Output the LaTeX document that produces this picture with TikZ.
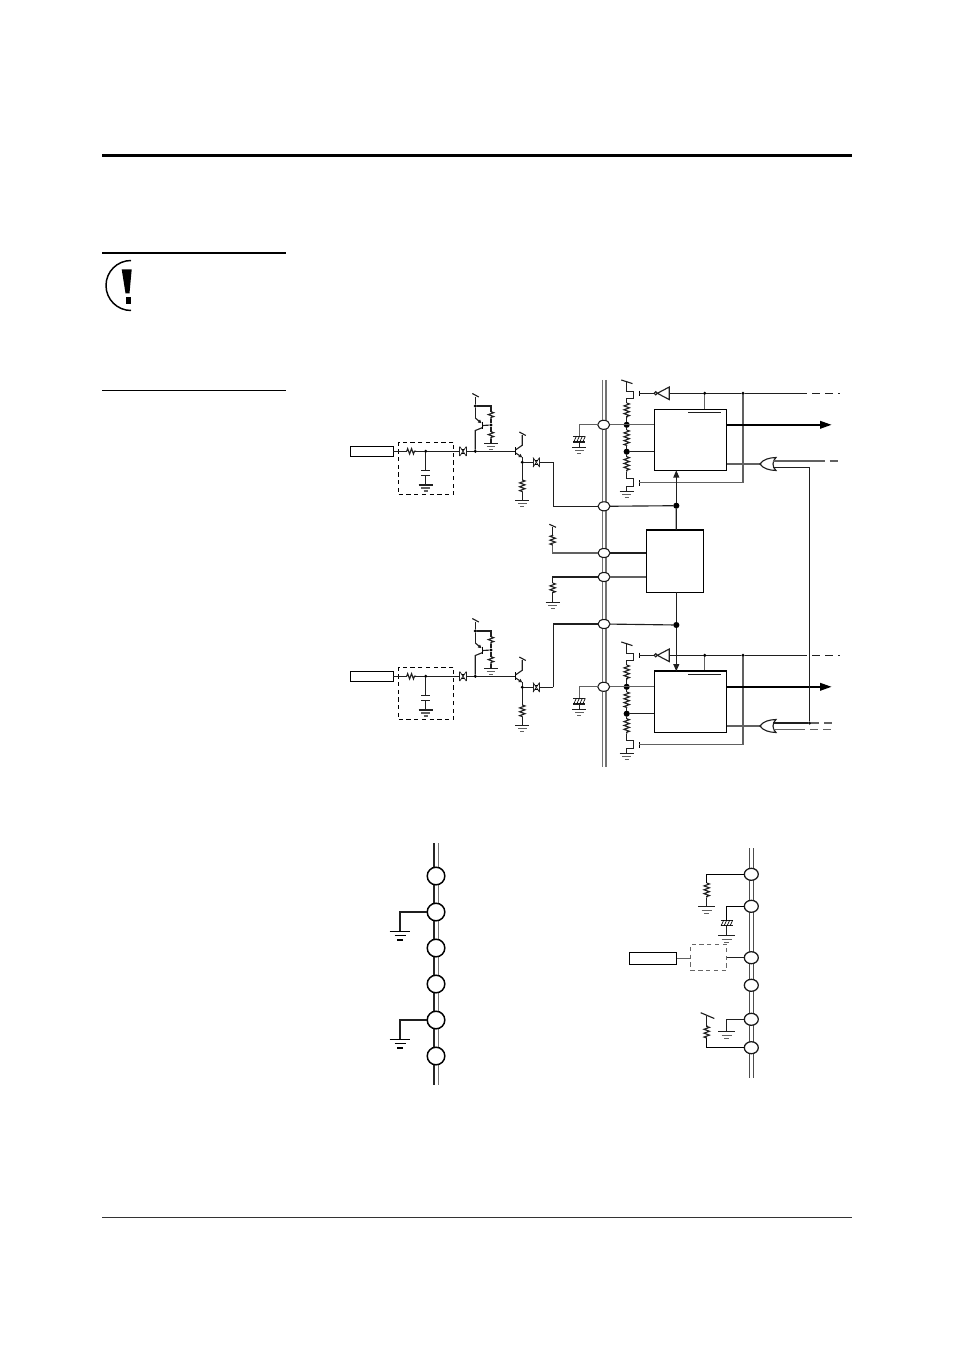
\documentclass[tikz,border=0pt]{standalone}
\usetikzlibrary{arrows.meta,decorations.pathmorphing,shapes.geometric}
\tikzset{
  wire/.style={line width=0.85pt,black!88},
  gwire/.style={line width=0.95pt,black!62},
  res/.style={wire,decorate,decoration={zigzag,amplitude=2pt,segment length=2.9pt}},
  dotn/.style={circle,fill=black,inner sep=0,outer sep=0,minimum size=2.6pt},
  bigdot/.style={circle,fill=black,inner sep=0,outer sep=0,minimum size=4.6pt},
  pad/.style={ellipse,draw=black!90,fill=white,line width=0.8pt,inner sep=0,outer sep=0,minimum width=9pt,minimum height=6.8pt},
  padb/.style={ellipse,draw=black!90,fill=white,line width=0.95pt,inner sep=0,outer sep=0,minimum width=10.5pt,minimum height=9pt},
  padc/.style={circle,draw=black,fill=white,line width=1.1pt,inner sep=0,outer sep=0,minimum size=13.2pt},
  ebox/.style={rectangle,draw=black,fill=none,line width=0.75pt,inner sep=0,outer sep=0},
  ddash/.style={wire,dash pattern=on 6pt off 3.75pt},
  gnd/.pic={\draw[wire] (-7,0)--(7,0); \draw[gwire,line width=0.8pt] (-4.3,3)--(4.3,3); \draw[gwire,line width=0.8pt] (-2,6)--(2,6);},
  gndb/.pic={\draw[line width=1.1pt] (-10.3,0)--(10.3,0); \draw[line width=1pt] (-5.5,4)--(5.5,4); \draw[line width=1pt] (-3,8.3)--(3,8.3);},
  gndm/.pic={\draw[wire] (-8.3,0)--(8.3,0); \draw[gwire,line width=0.8pt] (-5,3.5)--(5,3.5); \draw[gwire,line width=0.8pt] (-2.5,7)--(2.5,7);},
  capn/.pic={\draw[wire] (-4.6,-2.2)--(4.6,-2.2); \draw[wire] (-4.6,2.2)--(4.6,2.2);},
  hcap/.pic={\draw[wire] (-6,-2.8)--(6,-2.8); \draw[wire] (-6,2.8)--(6,2.8);
    \foreach \k in {-4,-1,2,5}{\draw[line width=.5pt] (\k-1.6,2.8)--(\k+1,-2.8);}},
  zener/.pic={\fill[white] (-3.3,-4.8) rectangle (3.3,4.8);
    \draw[wire,line width=.7pt] (-3.3,-4.8)--(-3.3,4.8); \draw[wire,line width=.7pt] (3.3,-4.8)--(3.3,4.8);
    \draw[wire,line width=.55pt] (-3.3,-4.8)--(3.3,4.8); \draw[wire,line width=.55pt] (-3.3,4.8)--(3.3,-4.8);
    \draw[line width=.55pt] (-1.2,-1.8)--(1.2,-1.8); \draw[line width=.55pt] (-1.2,1.8)--(1.2,1.8);},
  tick/.pic={\draw[wire] (-3,-3)--(3.5,.5);},
  orgate/.pic={\draw[wire,fill=white] (0,0) .. controls (3,-4.5) and (9,-6.3) .. (16,-6.5) .. controls (12,-3) and (12,3) .. (16,6.5) .. controls (9,6.3) and (3,4.5) .. (0,0) -- cycle;},
  invgate/.pic={\draw[wire,fill=white] (0,0)--(12,-6.3)--(12,6.3)--cycle; \draw[wire,fill=white] (-1.6,0) circle (1.6);},
  ntip/.style={-{Triangle[length=5.4pt,width=4.4pt]}},
  stip/.style={-{Triangle[length=2.6pt,width=2.6pt]}},
  bigtip/.style={-{Triangle[length=8.7pt,width=5.6pt]},line width=1.5pt,black},
}
% input stage, drawn once for each channel
\newcommand{\ampblock}{%
  \node[ebox,minimum width=43*0.75pt,minimum height=10*0.75pt] (in) at (371.7,451.3) {};
  \node[ebox,dashed,dash pattern=on 3.2pt off 2.6pt,minimum width=55.3*0.75pt,minimum height=52.3*0.75pt] (filt) at (426.3,468.2) {};
  \coordinate (ra) at (406.7,451.3); \coordinate (rb) at (416,451.3);
  \node[dotn] (j1) at (425.7,451.3) {};
  \coordinate (z1) at (463,451.3);
  \node[dotn] (j2) at (475.3,451.3) {};
  \coordinate (b2) at (515.7,451.3);
  \draw[wire] (in.east)--(ra); \draw[res] (ra)--(rb); \draw[wire] (rb)--(j1)--(z1)--(j2)--(b2);
  \pic at (z1) {zener};
  \coordinate (ct) at (425.7,470.7); \coordinate (cb) at (425.7,475); \coordinate (cg) at (425.7,485);
  \draw[wire] (j1)--(ct); \draw[wire] (cb)--(cg);
  \pic at (425.7,472.9) {capn}; \pic at (cg) {gnd};
  % upper transistor
  \coordinate (q1b) at (482.7,425.5);
  \node[dotn] (j3) at (475.3,406) {};
  \node[dotn] (j4) at (491,425) {};
  \coordinate (q1e) at (475.3,418); \coordinate (q1c) at (475.3,430.5);
  \coordinate (v1) at (475.3,396.5);
  \draw[wire] (v1)--(j3)--(q1e); \draw[wire,stip] (q1e)--(481.5,423.2);
  \draw[wire] (j2)--(q1c)--(482.7,427.5);
  \draw[line width=1.1pt] (482.7,421.7)--(482.7,429.3);
  \draw[wire] (q1b)--(j4);
  \pic at (v1) {tick};
  \coordinate (r2a) at (491,411.7); \coordinate (r2b) at (491,419.3);
  \coordinate (r3a) at (491,431.7); \coordinate (r3b) at (491,439.3); \coordinate (g1) at (491,443.3);
  \draw[wire] (j3)-|(r2a); \draw[res] (r2a)--(r2b); \draw[wire] (r2b)--(j4)--(r3a); \draw[res] (r3a)--(r3b); \draw[wire] (r3b)--(g1);
  \pic at (g1) {gnd};
  % second transistor
  \draw[line width=1.1pt] (515.7,447.4)--(515.7,455.4);
  \coordinate (v2) at (522.3,435);
  \node[dotn] (j5) at (522.3,462.3) {};
  \draw[wire] (v2)--(522.3,445.2)--(515.7,449.8);
  \draw[wire,stip] (515.7,453)--(522.3,457.4);
  \draw[wire] (522.3,457)--(j5);
  \pic at (v2) {tick};
  \coordinate (z2) at (536.3,462.3);
  \coordinate (r4a) at (522.3,480); \coordinate (r4b) at (522.3,491.7); \coordinate (g2) at (522.3,500.7);
  \draw[wire] (j5)--(r4a); \draw[res] (r4a)--(r4b); \draw[wire] (r4b)--(g2);
  \pic at (g2) {gnd};
  \coordinate (o) at (553.3,462.3);
  \draw[wire] (j5)--(z2)--(o);
  \pic at (z2) {zener};
}
% output stage, drawn once for each channel
\newcommand{\outblock}{%
  \node[ebox,minimum width=72.4*0.75pt,minimum height=61*0.75pt] (mac) at (690.5,439.8) {};
  \draw[wire] (688.3,412.2)--(720.7,412.2);
  \node[pad] (pad) at (603.7,424.8) {};
  \coordinate (c0) at (579.3,424.8); \coordinate (c1) at (579.3,436.4); \coordinate (c2) at (579.3,442); \coordinate (cg) at (579.3,447.5);
  \draw[gwire] (pad)--(c0)--(c1); \draw[wire] (c2)--(cg);
  \pic at (579.3,439.2) {hcap}; \pic at (cg) {gnd};
  \node[bigdot] (n1) at (626.7,424.8) {};
  \node[bigdot] (n2) at (626.7,451.7) {};
  \coordinate (m1) at (626.7,381.5); \coordinate (r1a) at (626.7,403); \coordinate (r1b) at (626.7,418);
  \coordinate (r2a) at (626.7,430); \coordinate (r2b) at (626.7,445.7);
  \coordinate (r3a) at (626.7,456.7); \coordinate (r3b) at (626.7,471.7); \coordinate (g3) at (626.7,491.7);
  \draw[wire] (m1)--(626.7,391.7)--(633.5,391.7)--(633.5,398.3)--(626.7,398.3)--(r1a);
  \draw[res] (r1a)--(r1b); \draw[wire] (r1b)--(n1)--(r2a); \draw[res] (r2a)--(r2b); \draw[wire] (r2b)--(n2)--(r3a); \draw[res] (r3a)--(r3b);
  \draw[wire] (r3b)--(626.7,478.3)--(633.5,478.3)--(633.5,486.7)--(626.7,486.7)--(g3);
  \pic at (g3) {gnd};
  \draw[wire] (621.3,380)--(632.5,383.6);
  \coordinate (gu) at (639.3,393.3); \coordinate (gl) at (639.3,482.7);
  \draw[line width=1.1pt] (639.3,390.5)--(639.3,396.1);
  \draw[line width=1.1pt] (639.3,480)--(639.3,485.5);
  \draw[gwire] (pad)--(mac.west|-pad);
  \draw[wire] (n2)--(mac.west|-n2);
  \coordinate (i0) at (657.3,393.3);
  \node[dotn] (ja) at (704.7,393.3) {};
  \node[dotn] (jb) at (743,393.3) {};
  \coordinate (dash0) at (799,393.3); \coordinate (dash1) at (840,393.3);
  \draw[wire] (gu)--(i0); \draw[wire] (669,393.3)--(ja)--(jb)--(dash0);
  \draw[ddash] (dash0)--(dash1);
  \pic at (i0) {invgate};
  \draw[gwire] (ja)--(ja|-mac.north);
  \draw[gwire] (jb)--(743,482.7)--(gl);
  \coordinate (ar) at (831.7,424.8);
  \draw[bigtip] (mac.east|-pad)--(ar);
  \coordinate (or) at (760,464);
  \draw[gwire] (mac.east|-or)--(or);
  \pic at (or) {orgate};
}
\begin{document}
\begin{tikzpicture}[x=0.75pt,y=-0.75pt]
\useasboundingbox (0,0) rectangle (954,1351);
% page furniture
\draw[line width=2.3pt] (102,155.5)--(852,155.5);
\draw[line width=.8pt] (102,253)--(286,253);
\draw[line width=.8pt] (102,390.5)--(286,390.5);
\draw[line width=.6pt,black!80] (102,1217.5)--(852,1217.5);
\draw[line width=1.1pt] (131,310.5) arc[start angle=90,end angle=270,radius=25];
\fill (121.7,269.3)--(131.7,269.3)--(129.5,293.3)--(125.5,293.3)--cycle;
\fill (125.7,296.7) rectangle (131,304);
% bus
\draw[line width=.8pt,black!55] (602.3,380)--(602.3,767);
\draw[line width=.8pt,black!55] (606,380)--(606,767);
% channels
\begin{scope}[name prefix=ua-]\ampblock\end{scope}
\begin{scope}[name prefix=la-,shift={(0,225)}]\ampblock\end{scope}
\begin{scope}[name prefix=uo-]\outblock\end{scope}
\begin{scope}[name prefix=lo-,shift={(0,262)}]\outblock\end{scope}
\draw[line width=1.4pt] (lo-mac.north west)--(lo-mac.north east);
% middle
\node[pad] (p506) at (604,506.3) {};
\node[pad] (p553) at (604,553) {};
\node[pad] (p577) at (604,577) {};
\node[pad] (p624) at (604,624) {};
\node[ebox,minimum width=57.4*0.75pt,minimum height=62.3*0.75pt] (ctl) at (675,561.2) {};
\draw[line width=1.4pt] (ctl.north west)--(ctl.north east);
\node[bigdot] (up) at (676.3,505.7) {};
\node[bigdot] (dn) at (676.3,625) {};
\draw[wire] (ua-o)|-(p506);
\draw[wire] (p506)--(up)--(up|-ctl.north);
\draw[wire] (la-o)|-(p624);
\draw[wire] (p624)--(dn);
\draw[wire] (dn|-ctl.south)--(dn);
\draw[wire,ntip] (up)--(up|-uo-mac.south);
\draw[wire,ntip] (dn)--(dn|-lo-mac.north);
\coordinate (ra) at (552.7,545); \coordinate (rb) at (552.7,535); \coordinate (rt) at (552.7,527);
\draw[gwire] (p553)-|(ra); \draw[res] (ra)--(rb); \draw[wire] (rb)--(rt);
\draw[wire] (549.3,524.3)--(556,527.3);
\draw[wire] (p553)--(p553-|ctl.west);
\coordinate (rc) at (552.7,583); \coordinate (rd) at (552.7,593); \coordinate (rg) at (552.7,602.7);
\draw[wire] (p577)-|(rc); \draw[res] (rc)--(rd); \draw[wire] (rd)--(rg);
\pic at (rg) {gnd};
\draw[gwire] (p577)--(p577-|ctl.west);
% right-hand OR inputs
\node[dotn] (jr) at (809.5,723) {};
\coordinate (ot1) at (773,460.7); \coordinate (ot2) at (773,467.3);
\draw[gwire,line width=1.2pt] (ot1)--(816.5,460.7); \draw[ddash,gwire,line width=1.2pt,dash pattern=on 6pt off 3.75pt] (816.5,460.7)--(838,460.7);
\draw[wire] (ot2)-|(jr);
\draw[wire] (773,723)--(jr); \draw[gwire,dash pattern=on 6pt off 3.75pt] (jr)--(834,723);
\draw[gwire] (773,729.3)--(797,729.3); \draw[gwire,dash pattern=on 6pt off 3.75pt] (797,729.3)--(834,729.3);
% lower-left test bus
\draw[line width=.8pt,black!85] (434,843)--(434,1085);
\draw[line width=.8pt,black!55] (438.3,843)--(438.3,1085);
\foreach \n/\y in {a/876,b/912,c/948,d/984,e/1020,f/1056}{\node[padc] (c\n) at (436,\y) {};}
\coordinate (cg1) at (400,931.7); \coordinate (cg2) at (400,1039.7);
\draw[line width=.85pt,black!88] (cb)-|(cg1); \draw[line width=.85pt,black!88] (ce)-|(cg2);
\pic at (cg1) {gndb}; \pic at (cg2) {gndb};
% lower-right bus
\draw[line width=.9pt,black!70] (749.7,848)--(749.7,1078);
\draw[line width=.9pt,black!70] (753.3,848)--(753.3,1078);
\foreach \n/\y in {a/874.3,b/906.3,c/957.7,d/985.3,e/1019.3,f/1047.7}{\node[padb] (d\n) at (751.3,\y) {};}
\coordinate (a1) at (706.7,883); \coordinate (a2) at (706.7,897.7); \coordinate (ag) at (706.7,906.7);
\draw[line width=.85pt] (da)-|(a1); \draw[res] (a1)--(a2); \draw[wire] (a2)--(ag);
\pic at (ag) {gndm};
\coordinate (b1) at (726.7,920); \coordinate (b2) at (726.7,926); \coordinate (bg) at (726.7,935.7);
\draw[line width=.85pt] (db)-|(b1); \draw[wire] (b2)--(bg);
\pic at (726.7,923) {hcap}; \pic at (bg) {gndm};
\node[ebox,minimum width=46.7*0.75pt,minimum height=12*0.75pt] (inb) at (653.3,958.3) {};
\node[ebox,draw=black!60,dash pattern=on 3.2pt off 2.6pt,minimum width=36*0.75pt,minimum height=26*0.75pt] (fb) at (708.7,957.3) {};
\draw[gwire] (inb)--(inb-|fb.west);
\draw[wire] (dc)--(dc-|fb.east);
\coordinate (eg) at (726.7,1031.7);
\draw[wire] (de)-|(eg); \pic at (eg) {gndm};
\coordinate (f1) at (706.7,1038); \coordinate (f2) at (706.7,1025); \coordinate (f3) at (706.7,1015.7);
\draw[line width=.85pt] (df)-|(f1); \draw[res] (f1)--(f2); \draw[wire] (f2)--(f3);
\draw[wire] (700.7,1012.7)--(714.3,1018.5);
\end{tikzpicture}
\end{document}
